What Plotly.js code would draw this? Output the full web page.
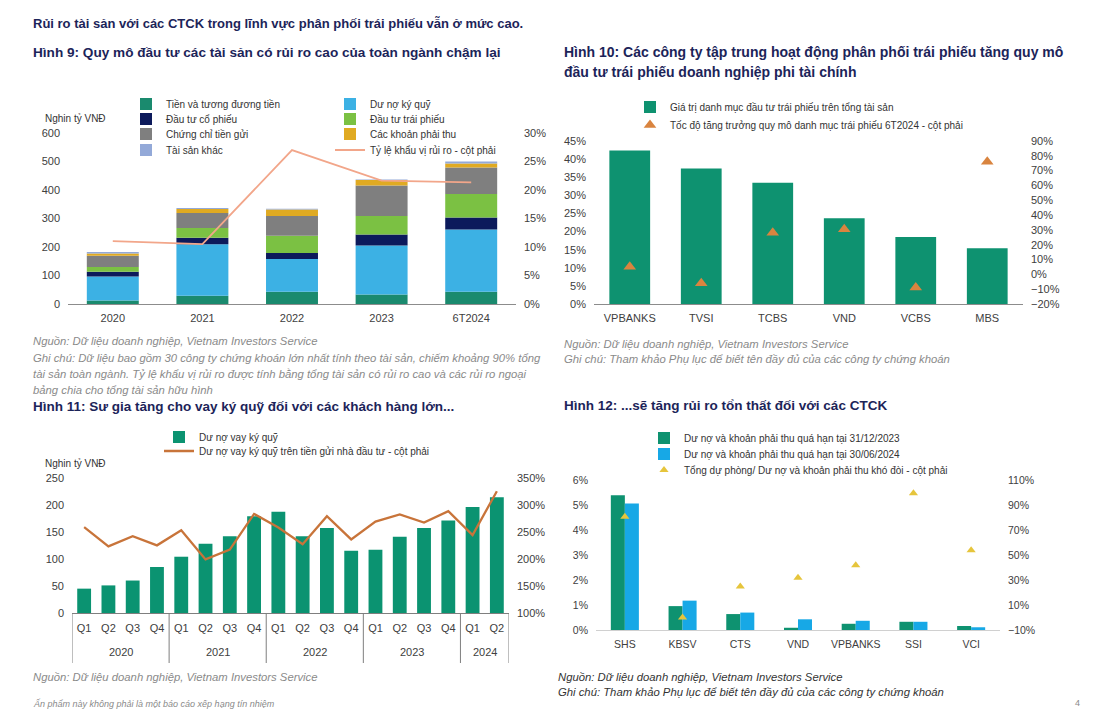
<!DOCTYPE html>
<html><head><meta charset="utf-8">
<script src="https://cdn.plot.ly/plotly-3.0.1.min.js"></script>
<style>html,body{margin:0;padding:0;background:#fff}#chart{width:1108px;height:710px}</style>
</head><body><div id="chart"></div>
<script>
const W=1108,H=710;
const px=x=>x/W, py=y=>1-y/H;

// ---------- Hình 9 ----------
const years9=['2020','2021','2022','2023','6T2024'];
const cash9=[12,29,43,33,43];
const margin9=[84,180,115,172,218];
const stock9=[17,23,21,38,42];
const bond9=[17,34,60,65,82];
const cd9=[39,53,69,107,93];
const recv9=[8,14,23,19,14];
const other9=[5,3,3,2,7];
const ratio9=[0.110,0.105,0.2695,0.216,0.213];
const names9=['Tiền và tương đương tiền','Dư nợ ký quỹ','Đầu tư cổ phiếu','Đầu tư trái phiếu','Chứng chỉ tiền gửi','Các khoản phải thu','Tài sản khác'];
const ratioName9='Tỷ lệ khẩu vị rủi ro - cột phải';

// ---------- Hình 10 ----------
const firms10=['VPBANKS','TVSI','TCBS','VND','VCBS','MBS'];
const share10=[0.424,0.374,0.335,0.237,0.185,0.154];
const growth10=[0.052,-0.06,0.28,0.305,-0.088,0.76];

// ---------- Hình 11 ----------
const years11=['2020','2020','2020','2020','2021','2021','2021','2021','2022','2022','2022','2022','2023','2023','2023','2023','2024','2024'];
const quarters11=['Q1','Q2','Q3','Q4','Q1','Q2','Q3','Q4','Q1','Q2','Q3','Q4','Q1','Q2','Q3','Q4','Q1','Q2'];
const margin11=[45,51,60,85,104,128,142,179,187,142,157,115,117,141,157,171,196,214];
const ratio11=[2.585,2.23,2.42,2.25,2.53,1.99,2.17,2.83,2.58,2.27,2.79,2.36,2.69,2.82,2.67,2.88,2.44,3.25];

// ---------- Hình 12 ----------
const firms12=['SHS','KBSV','CTS','VND','VPBANKS','SSI','VCI'];
const due2023=[0.0542,0.0096,0.0064,0.0009,0.0025,0.0033,0.0016];
const due2024=[0.0508,0.0118,0.0070,0.0043,0.0037,0.0033,0.0011];
const provision12=[0.81,0.0,0.25,0.32,0.42,1.0,0.54];

const colors9=['#1a8a6e','#3cb1e4','#0c1a5b','#7bc143','#7f7f7f','#e0aa22','#93a9d8'];
const FONT='Liberation Sans, Arial, sans-serif';
const tickF={family:FONT,size:11,color:'#404040'};
const legF={family:FONT,size:10,color:'#333'};

const traces=[];
// Hình 9 stacked bars (stack bases computed from the series)
const series9=[cash9,margin9,stock9,bond9,cd9,recv9,other9];
const legOf9=['legend','legend','legend2','legend2','legend3','legend3','legend4'];
let base=years9.map(()=>0);
series9.forEach((s,i)=>{
  traces.push({type:'bar',x:years9,y:s,base:base.slice(),name:names9[i],marker:{color:colors9[i]},
    width:0.58,xaxis:'x',yaxis:'y',legend:legOf9[i]});
  base=base.map((b,j)=>b+s[j]);
});
traces.push({type:'scatter',mode:'lines',x:years9,y:ratio9,name:ratioName9,line:{color:'#f2a68a',width:1.8},
  xaxis:'x',yaxis:'y2',legend:'legend4'});

// Hình 10
traces.push({type:'bar',x:firms10,y:share10,name:'Giá trị danh mục đầu tư trái phiếu trên tổng tài sản',
  marker:{color:'#0e9270'},width:0.57,xaxis:'x2',yaxis:'y3',legend:'legend5'});
traces.push({type:'scatter',mode:'markers',x:firms10,y:growth10,name:'Tốc độ tăng trưởng quy mô danh mục trái phiếu 6T2024 - cột phải',
  marker:{symbol:'triangle-up',size:11,color:'#d9843f'},xaxis:'x2',yaxis:'y4',legend:'legend6'});

// Hình 11 (quarter positions = index in the arrays)
const idx11=quarters11.map((q,i)=>i);
traces.push({type:'bar',x:idx11,y:margin11,name:'Dư nợ vay ký quỹ',
  marker:{color:'#0b9371'},width:0.57,xaxis:'x3',yaxis:'y5',legend:'legend7'});
traces.push({type:'scatter',mode:'lines',x:idx11,y:ratio11,name:'Dư nợ vay ký quỹ trên tiền gửi nhà đầu tư - cột phải',
  line:{color:'#c8743a',width:2.3},xaxis:'x3',yaxis:'y6',legend:'legend8'});

// Hình 12
traces.push({type:'bar',x:firms12,y:due2023,name:'Dư nợ và khoản phải thu quá hạn tại 31/12/2023',
  marker:{color:'#0e9270'},width:0.243,offset:-0.243,xaxis:'x4',yaxis:'y7',legend:'legend9'});
traces.push({type:'bar',x:firms12,y:due2024,name:'Dư nợ và khoản phải thu quá hạn tại 30/06/2024',
  marker:{color:'#17a8e6'},width:0.243,offset:0,xaxis:'x4',yaxis:'y7',legend:'legend10'});
traces.push({type:'scatter',mode:'markers',x:firms12,y:provision12,name:'Tổng dự phòng/ Dư nợ và khoản phải thu khó đòi - cột phải',
  marker:{symbol:'triangle-up',size:8,color:'#e6c53c'},xaxis:'x4',yaxis:'y8',legend:'legend11'});

function xa(d,anchor,extra){return Object.assign({domain:[px(d[0]),px(d[1])],anchor:anchor,showline:true,linecolor:'#8c8c8c',linewidth:1,
  ticks:'',showgrid:false,zeroline:false,tickfont:tickF,fixedrange:true,ticklabelstandoff:4},extra||{});}
function ya(d,anchor,range,dtick,extra){return Object.assign({domain:[py(d[1]),py(d[0])],anchor:anchor,range:range,dtick:dtick,
  showline:false,ticks:'',showgrid:false,zeroline:false,tickfont:tickF,fixedrange:true,ticklabelstandoff:7},extra||{});}
function yr(over,anchor,range,dtick,extra){return Object.assign({overlaying:over,side:'right',anchor:anchor,range:range,dtick:dtick,
  showline:false,ticks:'',showgrid:false,zeroline:false,tickfont:tickF,fixedrange:true,tickformat:'.0%',ticklabelstandoff:7},extra||{});}
function leg(xPx,yPx,extra){return Object.assign({x:px(xPx),y:py(yPx),xanchor:'left',yanchor:'middle',orientation:'h',
  bgcolor:'rgba(0,0,0,0)',font:legF,traceorder:'normal',itemclick:false,itemdoubleclick:false},extra||{});}

const NAVY='#1c2459';
function ann(text,x,y,size,color,extra){return Object.assign({text:text,x:px(x),y:py(y),xref:'paper',yref:'paper',
  xanchor:'left',yanchor:'middle',showarrow:false,font:{family:FONT,size:size,color:color}},extra||{});}
const GR='#8a8a8a';
const NS=11.3;
const annotations=[
  ann('<b>Rủi ro tài sản với các CTCK trong lĩnh vực phân phối trái phiếu vẫn ở mức cao.</b>',31,24,13,NAVY),
  ann('<b>Hình 9: Quy mô đầu tư các tài sản có rủi ro cao của toàn ngành chậm lại</b>',31,52,13.6,NAVY),
  ann('<b>Hình 10: Các công ty tập trung hoạt động phân phối trái phiếu tăng quy mô</b>',562,52,14,NAVY),
  ann('<b>đầu tư trái phiếu doanh nghiệp phi tài chính</b>',562,72,14,NAVY),
  ann('Nghin tỷ VNĐ',43,118,10,'#333'),
  ann('<i>Nguồn: Dữ liệu doanh nghiệp, Vietnam Investors Service</i>',31,341,NS,GR),
  ann('<i>Ghi chú: Dữ liệu bao gồm 30 công ty chứng khoán lớn nhất tính theo tài sản, chiếm khoảng 90% tổng</i>',31,358,NS,GR),
  ann('<i>tài sản toàn ngành. Tỷ lệ khẩu vị rủi ro được tính bằng tổng tài sản có rủi ro cao và các rủi ro ngoại</i>',31,374,NS,GR),
  ann('<i>bảng chia cho tổng tài sản hữu hình</i>',31,390,NS,GR),
  ann('<i>Nguồn: Dữ liệu doanh nghiệp, Vietnam Investors Service</i>',562,344,NS,GR),
  ann('<i>Ghi chú: Tham khảo Phụ lục để biết tên đầy đủ của các công ty chứng khoán</i>',562,359,NS,GR),
  ann('<b>Hình 11: Sư gia tăng cho vay ký quỹ đối với các khách hàng lớn...</b>',31,406,13.5,NAVY),
  ann('<b>Hình 12: ...sẽ tăng rủi ro tổn thất đối với các CTCK</b>',562,405,13.5,NAVY),
  ann('Nghin tỷ VNĐ',43,463,10,'#333'),
  ann('<i>Nguồn: Dữ liệu doanh nghiệp, Vietnam Investors Service</i>',31,677,NS,GR),
  ann('<i>Nguồn: Dữ liệu doanh nghiệp, Vietnam Investors Service</i>',556,677,NS,'#333'),
  ann('<i>Ghi chú: Tham khảo Phụ lục để biết tên đầy đủ của các công ty chứng khoán</i>',556,692,NS,'#333'),
  ann('<i>Ấn phẩm này không phải là một báo cáo xếp hạng tín nhiệm</i>',31,703,9,GR),
  ann('4',1073,703,9,GR)
];

// Hình 11 year group labels and dividers, derived from years11
const groups11=[];
years11.forEach((y,i)=>{const g=groups11[groups11.length-1];
  if(g&&g.year===y){g.last=i;}else{groups11.push({year:y,first:i,last:i});}});
const shapes=[];
groups11.forEach(g=>{
  annotations.push({text:g.year,x:(g.first+g.last)/2,y:py(652),xref:'x3',yref:'paper',xanchor:'center',yanchor:'middle',
    showarrow:false,font:{family:FONT,size:11,color:'#404040'}});
  shapes.push({type:'line',xref:'x3',yref:'paper',x0:g.first-0.5,x1:g.first-0.5,y0:py(613),y1:py(663),line:{color:'#7f7f7f',width:1}});
});
const lastG=groups11[groups11.length-1];
shapes.push({type:'line',xref:'x3',yref:'paper',x0:lastG.last+0.5,x1:lastG.last+0.5,y0:py(613),y1:py(663),line:{color:'#7f7f7f',width:1}});

const layout={
  width:W,height:H,margin:{l:0,r:0,t:0,b:0},paper_bgcolor:'#fff',plot_bgcolor:'rgba(0,0,0,0)',
  barmode:'overlay',showlegend:true,hovermode:false,
  xaxis:xa([68,516],'y',{type:'category'}),
  yaxis:ya([132.7,304],'x',[0,600],100),
  yaxis2:yr('y','x',[0,0.30],0.05),
  xaxis2:xa([594,1023],'y3',{type:'category'}),
  yaxis3:ya([141,304],'x2',[0,0.45],0.05,{tickformat:'.0%'}),
  yaxis4:yr('y3','x2',[-0.2,0.9],0.1),
  xaxis3:xa([72,509],'y5',{type:'linear',range:[-0.5,quarters11.length-0.5],tickmode:'array',tickvals:idx11,ticktext:quarters11,linecolor:'#7f7f7f',ticklabelstandoff:5}),
  yaxis5:ya([477.7,613],'x3',[0,250],50),
  yaxis6:yr('y5','x3',[1.0,3.5],0.5),
  xaxis4:xa([596,1000],'y7',{type:'category',linecolor:'#d0d0d0',tickfont:{family:FONT,size:10.5,color:'#404040'}}),
  yaxis7:ya([480.7,630],'x4',[0,0.06],0.01,{tickformat:'.0%',tickfont:{family:FONT,size:10.5,color:'#404040'}}),
  yaxis8:yr('y7','x4',[-0.1,1.1],0.2,{tick0:-0.1,tickfont:{family:FONT,size:10.5,color:'#404040'}}),
  legend:leg(126,104,{entrywidth:159,entrywidthmode:'pixels'}),
  legend2:leg(126,119,{entrywidth:159,entrywidthmode:'pixels'}),
  legend3:leg(126,134,{entrywidth:159,entrywidthmode:'pixels'}),
  legend4:leg(126,150,{entrywidth:159,entrywidthmode:'pixels'}),
  legend5:leg(630,107),
  legend6:leg(630,125),
  legend7:leg(159,437),
  legend8:leg(159,451),
  legend9:leg(644,438),
  legend10:leg(644,454),
  legend11:leg(644,470),
  annotations:annotations,
  shapes:shapes
};
Plotly.newPlot('chart',traces,layout,{staticPlot:true,displayModeBar:false});
</script></body></html>
